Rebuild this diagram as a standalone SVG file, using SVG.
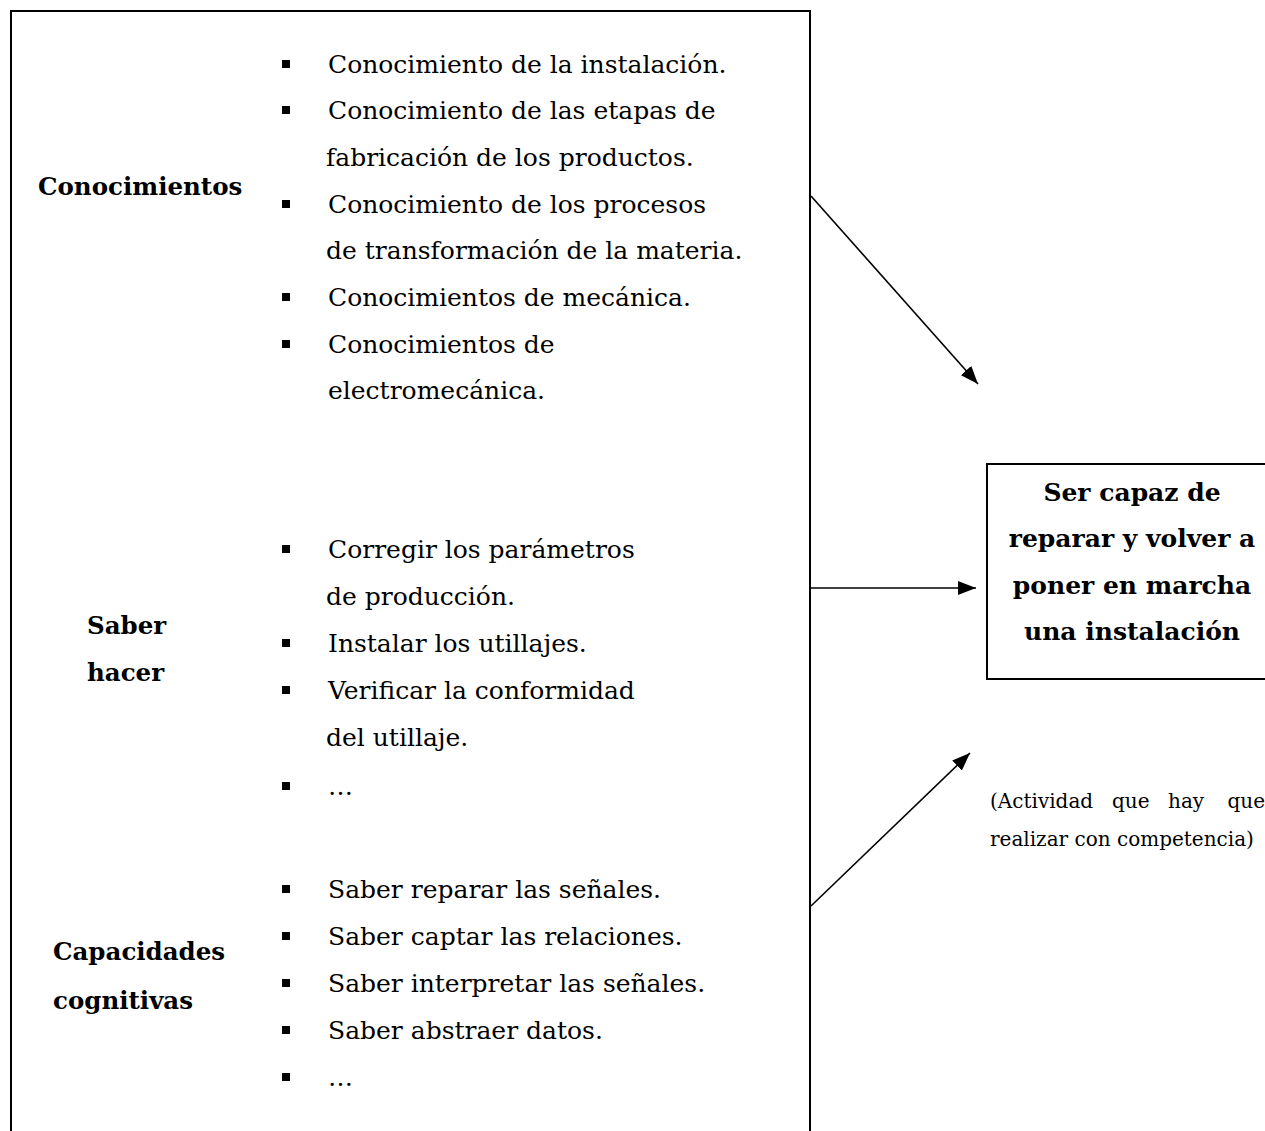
<svg xmlns="http://www.w3.org/2000/svg" width="1265" height="1131" viewBox="0 0 1265 1131">
<style>
.item{font-family:"DejaVu Serif","Liberation Serif",serif;font-size:25px;fill:#000}
.lbl{font-family:"DejaVu Serif","Liberation Serif",serif;font-size:24.5px;font-weight:bold;fill:#000}
.goal{font-family:"DejaVu Serif","Liberation Serif",serif;font-size:25px;font-weight:bold;fill:#000;text-anchor:middle}
.note{font-family:"DejaVu Serif","Liberation Serif",serif;font-size:20px;fill:#000}
.box{fill:none;stroke:#000;stroke-width:2}
.conn{stroke:#000;stroke-width:1.6;fill:none}
.b{fill:#000}
</style>
<defs>
<marker id="ah" viewBox="0 0 18 14" refX="18" refY="7" markerWidth="18" markerHeight="14" markerUnits="userSpaceOnUse" orient="auto">
<path d="M0,0 L18,7 L0,14 z" fill="#000"/>
</marker>
</defs>
<rect width="1265" height="1131" fill="#fff"/>
<g id="left-box">
<path class="box" d="M11,1140 V11 H810 V1140"/>
</g>
<g id="conocimientos">
<text class="lbl" x="38" y="195">Conocimientos</text>
<rect class="b" x="282" y="60" width="8" height="8"/>
<text class="item" x="328" y="73">Conocimiento de la instalación.</text>
<rect class="b" x="282" y="106" width="8" height="8"/>
<text class="item" x="328" y="119">Conocimiento de las etapas de</text>
<text class="item" x="326" y="166">fabricación de los productos.</text>
<rect class="b" x="282" y="200" width="8" height="8"/>
<text class="item" x="328" y="213">Conocimiento de los procesos</text>
<text class="item" x="326" y="259">de transformación de la materia.</text>
<rect class="b" x="282" y="293" width="8" height="8"/>
<text class="item" x="328" y="306">Conocimientos de mecánica.</text>
<rect class="b" x="282" y="340" width="8" height="8"/>
<text class="item" x="328" y="353">Conocimientos de</text>
<text class="item" x="328" y="399">electromecánica.</text>
</g>
<g id="saber-hacer">
<text class="lbl" x="87" y="634">Saber</text>
<text class="lbl" x="87" y="681">hacer</text>
<rect class="b" x="282" y="545" width="8" height="8"/>
<text class="item" x="328" y="558">Corregir los parámetros</text>
<text class="item" x="326" y="605">de producción.</text>
<rect class="b" x="282" y="639" width="8" height="8"/>
<text class="item" x="328" y="652">Instalar los utillajes.</text>
<rect class="b" x="282" y="686" width="8" height="8"/>
<text class="item" x="328" y="699">Verificar la conformidad</text>
<text class="item" x="326" y="746">del utillaje.</text>
<rect class="b" x="282" y="782" width="8" height="8"/>
<text class="item" x="328" y="795">…</text>
</g>
<g id="capacidades">
<text class="lbl" x="53" y="960">Capacidades</text>
<text class="lbl" x="53" y="1009">cognitivas</text>
<rect class="b" x="282" y="885" width="8" height="8"/>
<text class="item" x="328" y="898">Saber reparar las señales.</text>
<rect class="b" x="282" y="932" width="8" height="8"/>
<text class="item" x="328" y="945">Saber captar las relaciones.</text>
<rect class="b" x="282" y="979" width="8" height="8"/>
<text class="item" x="328" y="992">Saber interpretar las señales.</text>
<rect class="b" x="282" y="1026" width="8" height="8"/>
<text class="item" x="328" y="1039">Saber abstraer datos.</text>
<rect class="b" x="282" y="1073" width="8" height="8"/>
<text class="item" x="328" y="1086">…</text>
</g>
<g id="goal">
<rect class="box" x="987" y="464" width="290" height="215"/>
<text class="goal" x="1132" y="501">Ser capaz de</text>
<text class="goal" x="1132" y="547">reparar y volver a</text>
<text class="goal" x="1132" y="594">poner en marcha</text>
<text class="goal" x="1132" y="640">una instalación</text>
</g>
<g id="note">
<text class="note" x="990" y="808">(Actividad</text>
<text class="note" x="1112" y="808">que</text>
<text class="note" x="1168" y="808">hay</text>
<text class="note" x="1265" y="808" text-anchor="end">que</text>
<text class="note" x="990" y="846">realizar con competencia)</text>
</g>
<g id="connectors">
<line class="conn" x1="811" y1="196" x2="978" y2="384" marker-end="url(#ah)"/>
<line class="conn" x1="811" y1="588" x2="976" y2="588" marker-end="url(#ah)"/>
<line class="conn" x1="811" y1="906" x2="970" y2="753" marker-end="url(#ah)"/>
</g>
</svg>
